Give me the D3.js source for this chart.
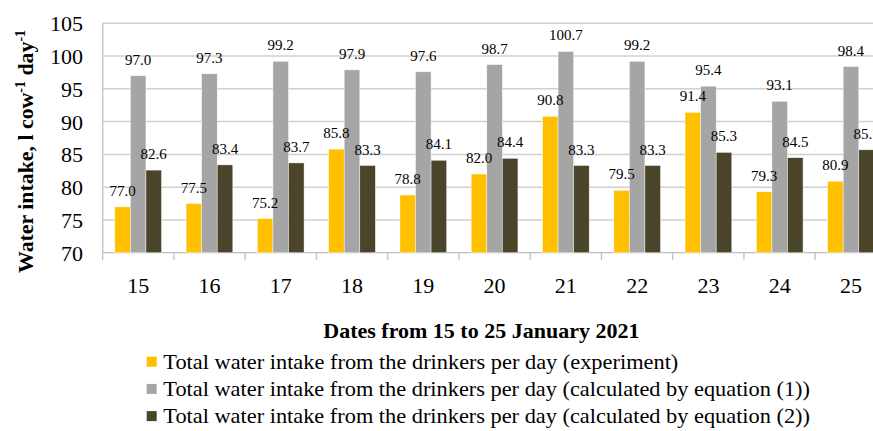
<!DOCTYPE html>
<html><head><meta charset="utf-8">
<script src="https://cdn.jsdelivr.net/npm/d3@7"></script>
<style>body{margin:0;background:#fff}svg{display:block}text{font-family:"Liberation Serif","Times New Roman",serif;fill:#000}</style>
</head><body>
<script>
const categories = ["15","16","17","18","19","20","21","22","23","24","25"];
const experiment = [77.0,77.5,75.2,85.8,78.8,82.0,90.8,79.5,91.4,79.3,80.9];
const equation1 = [97.0,97.3,99.2,97.9,97.6,98.7,100.7,99.2,95.4,93.1,98.4];
const equation2 = [82.6,83.4,83.7,83.3,84.1,84.4,83.3,83.3,85.3,84.5,85.7];
const yTicks = [70,75,80,85,90,95,100,105];
const seriesNames = [
  "Total water intake from the drinkers per day (experiment)",
  "Total water intake from the drinkers per day (calculated by equation (1))",
  "Total water intake from the drinkers per day (calculated by equation (2))"
];
const colors = ["#FFC000","#A5A5A5","#4A452A"];
const xTitle = "Dates from 15 to 25 January 2021";

const W = 873, H = 431;
const svg = d3.select("body").append("svg").attr("width", W).attr("height", H);

const x0 = 102.7, step = 71.25;
const x = d3.scaleBand().domain(categories).range([x0, x0 + step*categories.length]).paddingInner(0.345).paddingOuter(0.17);
const xs = d3.scaleBand().domain([0,1,2]).range([0, x.bandwidth()]);
const y = d3.scaleLinear().domain([70,105]).range([252.7, 23.3]);

// gridlines
svg.append("g").selectAll("line").data(yTicks.slice(1)).join("line")
  .attr("x1", x0).attr("x2", W).attr("y1", d=>y(d)).attr("y2", d=>y(d))
  .attr("stroke", "#D0D0D0").attr("stroke-width", 1.5);

// axes lines
svg.append("line").attr("x1", x0).attr("x2", x0).attr("y1", y(105)).attr("y2", y(70)+0.5).attr("stroke","#BFBFBF").attr("stroke-width",1.3);
svg.append("line").attr("x1", x0).attr("x2", W).attr("y1", y(70)).attr("y2", y(70)).attr("stroke","#BFBFBF").attr("stroke-width",1.3);
const bounds = d3.range(categories.length+1).map(i => x0 + i*step);
svg.append("g").selectAll("line").data(bounds).join("line")
  .attr("x1", d=>d).attr("x2", d=>d).attr("y1", y(70)).attr("y2", y(70)+7)
  .attr("stroke","#BFBFBF").attr("stroke-width",1.3);

// y tick labels
svg.append("g").selectAll("text").data(yTicks).join("text")
  .attr("x", 83).attr("y", d=>y(d)+8).attr("text-anchor","end")
  .style("font-size","22px").text(d=>d);

// x tick labels
svg.append("g").selectAll("text").data(categories).join("text")
  .attr("x", d=>x(d)+x.bandwidth()/2).attr("y", 293.3).attr("text-anchor","middle")
  .style("font-size","22px").text(d=>d);

// bars
const all = [experiment, equation1, equation2];
const g = svg.append("g");
all.forEach((vals, si) => {
  g.append("g").selectAll("rect").data(categories).join("rect")
    .attr("x", d=>x(d)+xs(si)).attr("width", xs.bandwidth())
    .attr("y", (d,i)=>y(vals[i])).attr("height", (d,i)=>y(70)-y(vals[i]))
    .attr("fill", colors[si]).attr("stroke","#fff").attr("stroke-width",0.6).attr("stroke-opacity",0.7);
});
all.forEach((vals, si) => {
  g.append("g").selectAll("text").data(categories).join("text")
    .attr("x", d=>x(d)+xs(si)+xs.bandwidth()/2).attr("y", (d,i)=>y(vals[i])-11)
    .attr("text-anchor","middle").style("font-size","15px")
    .text((d,i)=>vals[i].toFixed(1));
});

// y title
const yt = svg.append("text").attr("transform","translate(33,151.5) rotate(-90)")
  .attr("text-anchor","middle").style("font-size","22px").style("font-weight","bold")
  .attr("textLength", 243).attr("lengthAdjust","spacingAndGlyphs");
yt.append("tspan").text("Water intake, l cow");
yt.append("tspan").attr("dy",-8).style("font-size","14px").text("-1");
yt.append("tspan").attr("dy",8).text(" day");
yt.append("tspan").attr("dy",-8).style("font-size","14px").text("-1");

// x title
svg.append("text").attr("x", 323.3).attr("y", 338.3).attr("text-anchor","start")
  .style("font-size","22px").style("font-weight","bold").text(xTitle);

// legend
const ends = [678.3, 810, 810];
const lg = svg.append("g");
seriesNames.forEach((n, i) => {
  const by = 368.5 + i*27.2;
  lg.append("rect").attr("x",146.7).attr("y",by-11.8).attr("width",10).attr("height",10).attr("fill",colors[i]);
  lg.append("text").attr("x",163.3).attr("y",by).attr("textLength",ends[i]-163.3).attr("lengthAdjust","spacingAndGlyphs")
    .style("font-size","22px").text(n);
});
</script>
</body></html>
